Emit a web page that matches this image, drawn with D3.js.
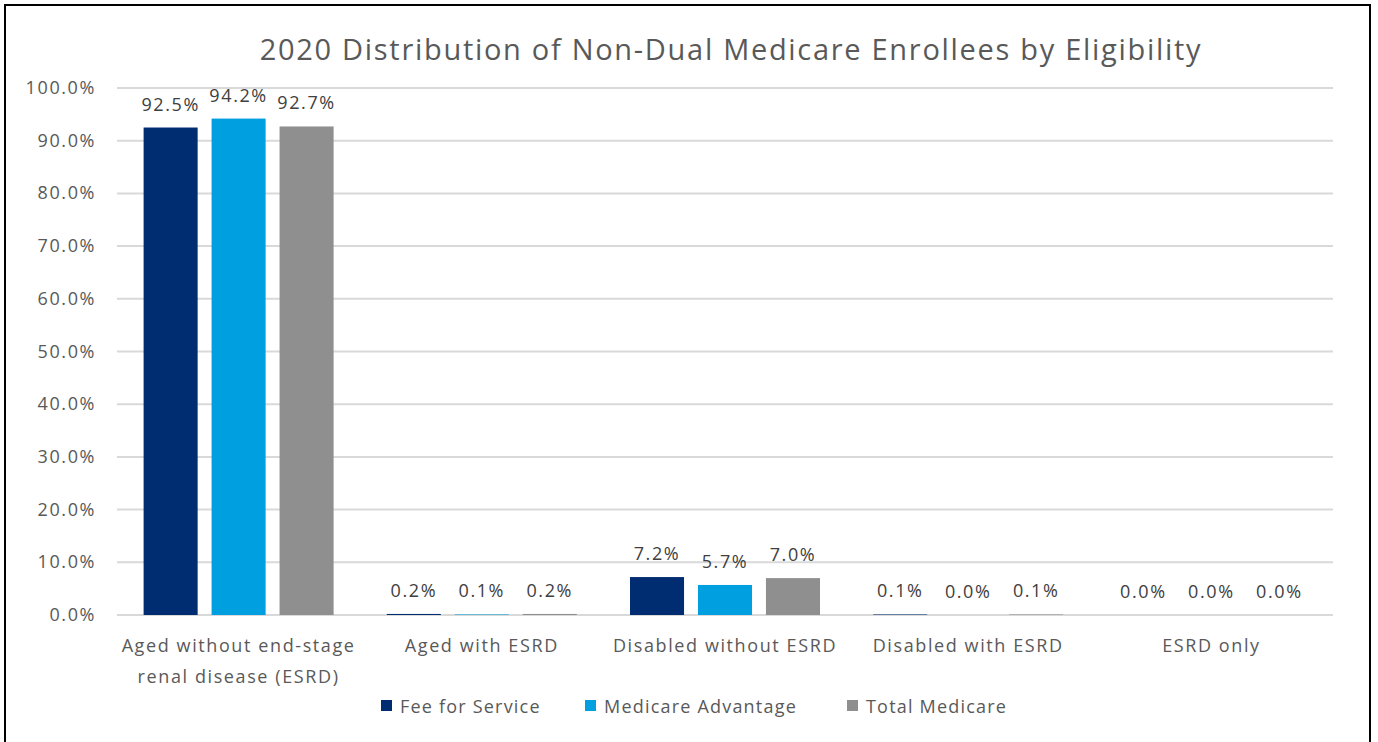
<!DOCTYPE html>
<html><head><meta charset="utf-8">
<script src="https://cdn.jsdelivr.net/npm/d3@7"></script>
<style>body{margin:0;background:#fff;}svg{display:block;font-family:"Open Sans",sans-serif;}</style>
</head><body>
<svg id="c" width="1378" height="742"></svg>
<script>
const title = "2020 Distribution of Non-Dual Medicare Enrollees by Eligibility";
const categories = [["Aged without end-stage","renal disease (ESRD)"],["Aged with ESRD"],["Disabled without ESRD"],["Disabled with ESRD"],["ESRD only"]];
const seriesNames = ["Fee for Service","Medicare Advantage","Total Medicare"];
const feeForService = [92.5,0.2,7.2,0.1,0.0];
const medicareAdvantage = [94.2,0.1,5.7,0.0,0.0];
const totalMedicare = [92.7,0.2,7.0,0.1,0.0];
const yTicks = [0,10,20,30,40,50,60,70,80,90,100];
const colors = ["#002D72","#009FDF","#8F8F8F"];

(function(){
const series = [feeForService, medicareAdvantage, totalMedicare];
const svg = d3.select("#c");
const FS = 18, LS = 1.6;
svg.append("rect").attr("x",5).attr("y",5).attr("width",1365).attr("height",760)
  .attr("fill","none").attr("stroke","#000").attr("stroke-width",2);

const pl=117,pr=1333,pt=88,pb=615;
const x = d3.scaleBand().domain(d3.range(categories.length)).range([pl,pr]);
const xs = d3.scaleBand().domain(d3.range(3)).range([0,190]).paddingInner(0.205);
const y = d3.scaleLinear().domain([0,100]).range([pb,pt]);

svg.append("text").attr("x",731).attr("y",60).attr("text-anchor","middle")
  .attr("font-size",29).attr("letter-spacing",1.7).attr("fill","#595959").text(title);

const g = svg.append("g");
g.selectAll("line.grid").data(yTicks).join("line")
  .attr("x1",pl).attr("x2",pr).attr("y1",d=>y(d)).attr("y2",d=>y(d))
  .attr("stroke","#D9D9D9").attr("stroke-width",2);
g.selectAll("text.yt").data(yTicks).join("text")
  .attr("x",96).attr("y",d=>y(d)+6).attr("text-anchor","end")
  .attr("font-size",FS).attr("letter-spacing",LS).attr("fill","#595959").text(d=>d.toFixed(1)+"%");

categories.forEach((cat,i)=>{
  const gx = x(i)+(x.bandwidth()-190)/2;
  series.forEach((s,j)=>{
    const v=s[i];
    g.append("rect").attr("x",gx+xs(j)).attr("width",xs.bandwidth())
      .attr("y",y(v)).attr("height",y(0)-y(v)).attr("fill",colors[j]);
    g.append("text").attr("x",gx+xs(j)+xs.bandwidth()/2).attr("y",y(v)-17)
      .attr("text-anchor","middle").attr("font-size",FS).attr("letter-spacing",LS).attr("fill","#404040")
      .text(v.toFixed(1)+"%");
  });
  const t = g.append("text").attr("text-anchor","middle").attr("font-size",FS).attr("letter-spacing",LS).attr("fill","#595959");
  cat.forEach((line,k)=>t.append("tspan").attr("x",x(i)+x.bandwidth()/2).attr("y",652+k*31).text(line));
});

const legX=[381,585,847];
seriesNames.forEach((n,j)=>{
  svg.append("rect").attr("x",legX[j]).attr("y",700).attr("width",11).attr("height",11).attr("fill",colors[j]);
  svg.append("text").attr("x",legX[j]+19).attr("y",713).attr("font-size",FS).attr("letter-spacing",1.2).attr("fill","#595959").text(n);
});
})();
</script>
</body></html>
